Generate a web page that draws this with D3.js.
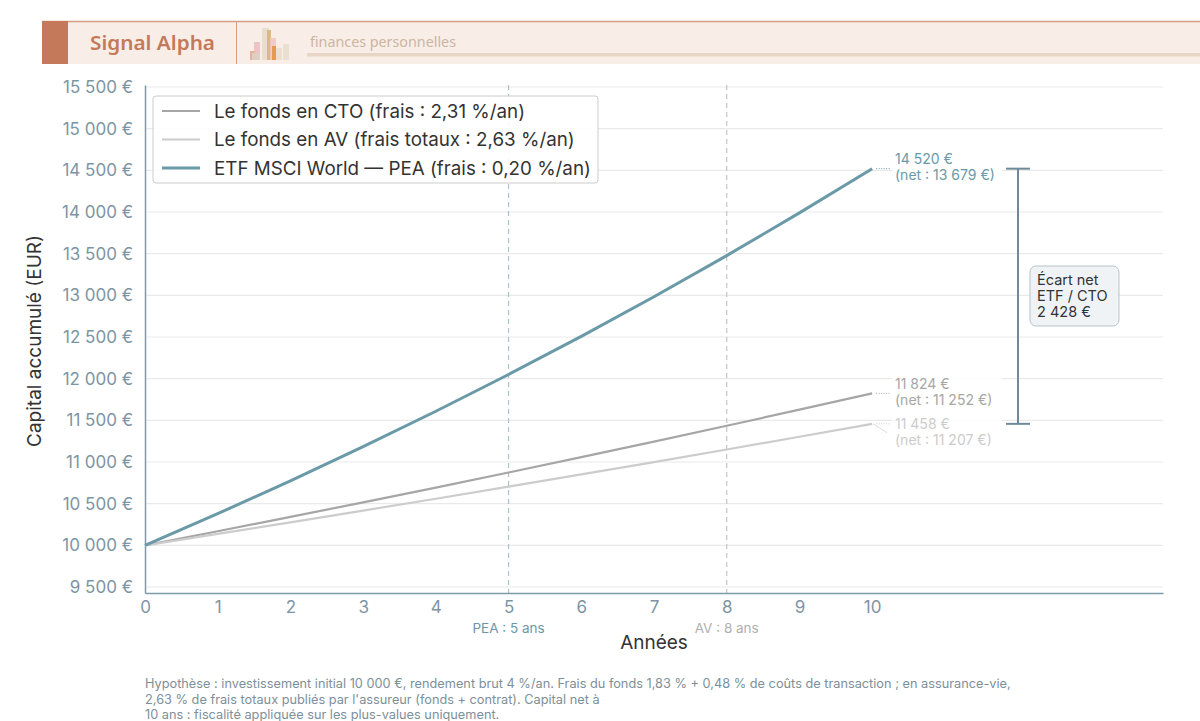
<!DOCTYPE html>
<html>
<head>
<meta charset="utf-8">
<script src="https://cdn.jsdelivr.net/npm/d3@7"></script>
<style>
  body { margin: 0; background: #fff; }
  text { font-family: Inter, "Noto Sans", sans-serif; }
</style>
</head>
<body>
<div id="chart"></div>
<script>
//constants
const width = 1200;
const height = 721;
const margin = { top: 85, right: 35, bottom: 128, left: 145 };

// data
const years = [0, 1, 2, 3, 4, 5, 6, 7, 8, 9, 10];
const etfValues = [10000, 10380, 10774, 11184, 11609, 12050, 12508, 12983, 13477, 13989, 14520];
const ctoValues = [10000, 10169, 10341, 10516, 10693, 10874, 11058, 11245, 11435, 11628, 11824];
const avValues = [10000, 10137, 10276, 10417, 10559, 10704, 10851, 10999, 11150, 11303, 11458];
const netValues = { etf: 13679, cto: 11252, av: 11207 };
const yTicks = [9500, 10000, 10500, 11000, 11500, 12000, 12500, 13000, 13500, 14000, 14500, 15000, 15500];
const xTicks = [0, 1, 2, 3, 4, 5, 6, 7, 8, 9, 10];
const markers = [
  { year: 5, label: "PEA : 5 ans", color: "#a9c3cc", text: "#6c97a6" },
  { year: 8, label: "AV : 8 ans", color: "#c4c4c4", text: "#b0b0b0" },
];
const seriesNames = [
  "Le fonds en CTO (frais : 2,31 %/an)",
  "Le fonds en AV (frais totaux : 2,63 %/an)",
  "ETF MSCI World — PEA (frais : 0,20 %/an)",
];
const gapLabel = ["Écart net", "ETF / CTO", "2 428 €"];
const footnote = [
  "Hypothèse : investissement initial 10 000 €, rendement brut 4 %/an. Frais du fonds 1,83 % + 0,48 % de coûts de transaction ; en assurance-vie,",
  "2,63 % de frais totaux publiés par l'assureur (fonds + contrat). Capital net à",
  "10 ans : fiscalité appliquée sur les plus-values uniquement.",
];

const colors = { cto: "#a6a6a6", av: "#cccccc", etf: "#6a9aa8" };
const series = [
  { key: "cto", name: seriesNames[0], values: ctoValues, width: 2.2 },
  { key: "av", name: seriesNames[1], values: avValues, width: 2.2 },
  { key: "etf", name: seriesNames[2], values: etfValues, width: 3 },
];

const fmt = (v) => d3.format(",")(v).replace(/,/g, " ") + " €";

const svg = d3
  .select("#chart")
  .append("svg")
  .attr("width", width)
  .attr("height", height);

// header band
const header = svg.append("g");
header.append("rect").attr("x", 42).attr("y", 21).attr("width", 1158).attr("height", 43).attr("fill", "#f8ede7");
header.append("line").attr("x1", 42).attr("x2", 1200).attr("y1", 21.5).attr("y2", 21.5).attr("stroke", "#d89c82").attr("stroke-width", 1.5);
header.append("rect").attr("x", 42).attr("y", 21).attr("width", 26).attr("height", 43).attr("fill", "#c47a5a");
header.append("line").attr("x1", 236.5).attr("x2", 236.5).attr("y1", 21).attr("y2", 64).attr("stroke", "#d89c82");
header
  .append("text")
  .attr("x", 90)
  .attr("y", 50)
  .attr("font-size", 19)
  .attr("font-weight", 600)
  .attr("fill", "#c47a5a")
  .attr("textLength", 125)
  .attr("lengthAdjust", "spacingAndGlyphs")
  .style("font-family", "'Noto Sans', sans-serif")
  .text("Signal Alpha");
// small bar icon
const iconBars = [
  { x: 250, y: 51, w: 6, h: 9, c: "#e0a98a" },
  { x: 254, y: 42, w: 6, h: 18, c: "#eabcbc" },
  { x: 252, y: 53, w: 8, h: 7, c: "#ddd2c4" },
  { x: 262, y: 28, w: 7, h: 32, c: "#e6d9c8" },
  { x: 267, y: 30, w: 4, h: 30, c: "#d7b07a" },
  { x: 270, y: 38, w: 6, h: 22, c: "#eec6c2" },
  { x: 272, y: 46, w: 4, h: 14, c: "#e39040" },
  { x: 276, y: 48, w: 6, h: 12, c: "#e8dccc" },
  { x: 283, y: 44, w: 6, h: 16, c: "#e8dccc" },
];
header
  .selectAll(".icon")
  .data(iconBars)
  .join("rect")
  .attr("x", (d) => d.x)
  .attr("y", (d) => d.y)
  .attr("width", (d) => d.w)
  .attr("height", (d) => d.h)
  .attr("fill", (d) => d.c)
  .attr("opacity", 0.85);
header
  .append("text")
  .attr("x", 310)
  .attr("y", 47)
  .attr("font-size", 14.5)
  .attr("fill", "#cbb5a3")
  .attr("textLength", 146)
  .attr("lengthAdjust", "spacingAndGlyphs")
  .style("font-family", "'Noto Sans', sans-serif")
  .text("finances personnelles");
header.append("rect").attr("x", 307).attr("y", 53).attr("width", 893).attr("height", 3.5).attr("fill", "#e7d6c6");

// scales
const x = d3.scaleLinear().domain([0, 14]).range([margin.left, 1163]);
const y = d3.scaleLinear().domain([9428, 15524]).range([height - margin.bottom, margin.top]);

// gridlines
svg
  .append("g")
  .selectAll("line")
  .data(yTicks)
  .join("line")
  .attr("x1", margin.left)
  .attr("x2", 1163)
  .attr("y1", (d) => y(d))
  .attr("y2", (d) => y(d))
  .attr("stroke", "#e9e9e9")
  .attr("stroke-width", 1.2);

// marker lines
svg
  .append("g")
  .selectAll("line")
  .data(markers)
  .join("line")
  .attr("x1", (d) => x(d.year))
  .attr("x2", (d) => x(d.year))
  .attr("y1", margin.top)
  .attr("y2", height - margin.bottom)
  .attr("stroke", (d) => d.color)
  .attr("stroke-width", 1.2)
  .attr("stroke-dasharray", "5,4");

svg
  .append("g")
  .selectAll("text")
  .data(markers)
  .join("text")
  .attr("x", (d) => x(d.year))
  .attr("y", 632.5)
  .attr("text-anchor", "middle")
  .attr("font-size", 13.5)
  .attr("fill", (d) => d.text)
  .text((d) => d.label);

// axes
const yAxis = d3.axisLeft(y).tickValues(yTicks).tickFormat(fmt).tickSize(0).tickPadding(12);
const xAxis = d3.axisBottom(x).tickValues(xTicks).tickFormat(d3.format("d")).tickSize(0).tickPadding(8);

svg
  .append("g")
  .attr("class", "axis")
  .attr("transform", `translate(${margin.left},0)`)
  .call(yAxis);
svg
  .append("g")
  .attr("class", "axis")
  .attr("transform", `translate(0,${height - margin.bottom})`)
  .call(xAxis);

svg.selectAll(".axis path.domain").attr("stroke", "#7f9aa8").attr("stroke-width", 1.5);
svg.selectAll(".axis .tick text").attr("font-size", 17).attr("fill", "#7d95a3").style("font-family", "Inter, sans-serif");

// axis titles
svg
  .append("text")
  .attr("transform", `translate(41,341) rotate(-90)`)
  .attr("text-anchor", "middle")
  .attr("font-size", 19)
  .attr("fill", "#333")
  .text("Capital accumulé (EUR)");
svg
  .append("text")
  .attr("x", 654)
  .attr("y", 649)
  .attr("text-anchor", "middle")
  .attr("font-size", 19)
  .attr("fill", "#333")
  .text("Années");

// lines
const line = d3
  .line()
  .x((d, i) => x(years[i]))
  .y((d) => y(d));

svg
  .append("g")
  .selectAll("path")
  .data(series)
  .join("path")
  .attr("d", (d) => line(d.values))
  .attr("fill", "none")
  .attr("stroke", (d) => colors[d.key])
  .attr("stroke-width", (d) => d.width);

// end labels
const endLabels = [
  { key: "etf", value: etfValues[10], net: netValues.etf, ly: 164, color: "#6a9aa8" },
  { key: "cto", value: ctoValues[10], net: netValues.cto, ly: 389, color: "#a6a6a6" },
  { key: "av", value: avValues[10], net: netValues.av, ly: 429, color: "#cccccc" },
];

const lab = svg.append("g").selectAll("g").data(endLabels).join("g");
lab
  .append("rect")
  .attr("x", 892)
  .attr("y", (d) => d.ly - 15)
  .attr("width", 110)
  .attr("height", 33)
  .attr("fill", "white")
  .attr("opacity", 0.85);
lab
  .append("line")
  .attr("x1", x(10) + 4)
  .attr("x2", 891)
  .attr("y1", (d) => y(d.value))
  .attr("y2", (d) => y(d.value))
  .attr("stroke", (d) => d.color)
  .attr("stroke-width", 1)
  .attr("stroke-dasharray", "1,1.5");
lab
  .append("text")
  .attr("x", 895)
  .attr("y", (d) => d.ly)
  .attr("font-size", 14)
  .attr("fill", (d) => d.color)
  .text((d) => fmt(d.value));
lab
  .append("text")
  .attr("x", 895)
  .attr("y", (d) => d.ly + 16)
  .attr("font-size", 14)
  .attr("fill", (d) => d.color)
  .text((d) => `(net : ${fmt(d.net)})`);

// small pointer for the AV label
svg
  .append("line")
  .attr("x1", x(10) + 1)
  .attr("y1", y(avValues[10]))
  .attr("x2", x(10) + 15)
  .attr("y2", y(avValues[10]) + 9)
  .attr("stroke", "#dddddd")
  .attr("stroke-width", 1);

// bracket
const bx = 1018;
const bracket = svg.append("g").attr("stroke", "#6e8a99").attr("stroke-width", 2);
bracket.append("line").attr("x1", bx).attr("x2", bx).attr("y1", y(etfValues[10])).attr("y2", y(avValues[10]));
[etfValues[10], avValues[10]].forEach((v) => {
  bracket.append("line").attr("x1", bx - 12).attr("x2", bx + 12).attr("y1", y(v)).attr("y2", y(v));
});

const box = svg.append("g").attr("transform", "translate(1030,266)");
box
  .append("rect")
  .attr("width", 89)
  .attr("height", 60)
  .attr("rx", 6)
  .attr("fill", "#eff3f6")
  .attr("stroke", "#b9c3c9")
  .attr("stroke-width", 1);
box
  .selectAll("text")
  .data(gapLabel)
  .join("text")
  .attr("x", 7)
  .attr("y", (d, i) => 19 + i * 16)
  .attr("font-size", 14.5)
  .attr("fill", "#333")
  .text((d) => d);

// legend
const legend = svg.append("g").attr("transform", "translate(153,96)");
legend
  .append("rect")
  .attr("width", 445)
  .attr("height", 87)
  .attr("rx", 3)
  .attr("fill", "white")
  .attr("fill-opacity", 0.9)
  .attr("stroke", "#cccccc");
const item = legend
  .selectAll(".item")
  .data(series)
  .join("g")
  .attr("transform", (d, i) => `translate(0,${15 + i * 28.5})`);
item
  .append("line")
  .attr("x1", 9)
  .attr("x2", 47)
  .attr("stroke", (d) => colors[d.key])
  .attr("stroke-width", (d) => d.width);
item
  .append("text")
  .attr("x", 61)
  .attr("y", 6.5)
  .attr("font-size", 18.8)
  .attr("fill", "#333")
  .text((d) => d.name);

// footnote
svg
  .append("g")
  .selectAll("text")
  .data(footnote)
  .join("text")
  .attr("x", 145)
  .attr("y", (d, i) => 688 + i * 15.5)
  .attr("font-size", 12.75)
  .attr("fill", "#7d8f99")
  .text((d) => d);
</script>
</body>
</html>
